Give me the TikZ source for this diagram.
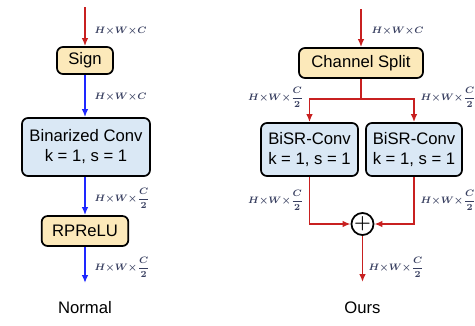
\documentclass[tikz,border=0pt]{standalone}
\usepackage{amsmath, amssymb}
\usepackage{fontspec}
\setmainfont{Liberation Sans}
\usepackage{tikz}
\usetikzlibrary{positioning}
\usetikzlibrary{arrows.meta}
\definecolor{boxyellow}{RGB}{252,233,186}
\definecolor{boxblue}{RGB}{218,232,245}
\definecolor{flowred}{RGB}{200,32,32}
\definecolor{flowblue}{RGB}{30,40,255}
\definecolor{dimcol}{RGB}{55,62,95}
\tikzset{
  opbox/.style={draw=black, line width=1.3pt, rounded corners=4.5pt, align=center,
    inner sep=0pt, font=\fontsize{12.5}{15}\selectfont},
  yellowbox/.style={opbox, fill=boxyellow},
  bluebox/.style={opbox, fill=boxblue},
  redflow/.style={draw=flowred, line width=1.2pt},
  blueflow/.style={draw=flowblue, line width=1.2pt},
  tip/.style={-{Latex[length=6pt,width=5pt]}},
  dimlabel/.style={font=\scriptsize\boldmath, text=dimcol, inner sep=1pt},
  caption/.style={font=\fontsize{12.5}{15}\selectfont}
}

\begin{document}
\begin{tikzpicture}[x=0.75pt, y=-0.75pt]
\useasboundingbox (0,0) rectangle (475,325);
% left column
\coordinate (inL) at (85,7);
\node[yellowbox, minimum width=42pt, minimum height=20.25pt] (sign) at (85,60.5) {Sign};
\node[bluebox, minimum width=96pt, minimum height=43.5pt] (bconv) at (86,147) {Binarized Conv\\k = 1, s = 1};
\node[yellowbox, minimum width=65pt, minimum height=22.5pt] (rprelu) at (85,231) {RPReLU};
\coordinate (outL) at (85,283);
\draw[redflow, tip] (inL) -- (sign.north);
\draw[blueflow, tip] (sign.south) -- (bconv.north -| sign.south);
\draw[blueflow, tip] (bconv.south -| sign.south) -- (rprelu.north -| sign.south);
\draw[blueflow, tip] (rprelu.south -| sign.south) -- (outL);
\node[dimlabel, anchor=west] (dL1) at (93,31) {$H{\times}W{\times}C$};
\node[dimlabel, anchor=west] (dL2) at (93,97) {$H{\times}W{\times}C$};
\node[dimlabel, anchor=west] (dL3) at (93,198) {$H{\times}W{\times}\dfrac{C}{2}$};
\node[dimlabel, anchor=west] (dL4) at (93,267) {$H{\times}W{\times}\dfrac{C}{2}$};
\node[caption] (normal) at (85,308) {Normal};
% right column
\coordinate (inR) at (361,9);
\node[yellowbox, minimum width=93pt, minimum height=22.5pt] (split) at (361,63) {Channel Split};
\coordinate (fork) at (361,99);
\node[bluebox, minimum width=72.75pt, minimum height=39.75pt] (bisrL) at (309.5,149.5) {BiSR-Conv\\k = 1, s = 1};
\node[bluebox, minimum width=72pt, minimum height=39.75pt] (bisrR) at (414,149.5) {BiSR-Conv\\k = 1, s = 1};
\node[circle, draw=black, line width=1.3pt, fill=white, minimum size=14.5pt, inner sep=0pt,
  font=\Large] (sum) at (362.5,224) {$\boldsymbol{+}$};
\coordinate (outR) at (362.5,282);
\draw[redflow, tip] (inR) -- (split.north);
\draw[redflow] (split.south) -- (fork);
\draw[redflow, tip] (fork) -| (bisrL.north);
\draw[redflow, tip] (fork) -| (bisrR.north);
\draw[redflow, tip] (bisrL.south) |- (sum.west);
\draw[redflow, tip] (bisrR.south) |- (sum.east);
\draw[redflow, tip] (sum.south) -- (outR);
\node[dimlabel, anchor=west] (dR1) at (370,31) {$H{\times}W{\times}C$};
\node[dimlabel, anchor=east] (dR2) at (305,97) {$H{\times}W{\times}\dfrac{C}{2}$};
\node[dimlabel, anchor=west] (dR3) at (419,97) {$H{\times}W{\times}\dfrac{C}{2}$};
\node[dimlabel, anchor=east] (dR4) at (305,200) {$H{\times}W{\times}\dfrac{C}{2}$};
\node[dimlabel, anchor=west] (dR5) at (419,200) {$H{\times}W{\times}\dfrac{C}{2}$};
\node[dimlabel, anchor=west] (dR6) at (367,267) {$H{\times}W{\times}\dfrac{C}{2}$};
\node[caption] (ours) at (362.5,308) {Ours};
\end{tikzpicture}
\end{document}
